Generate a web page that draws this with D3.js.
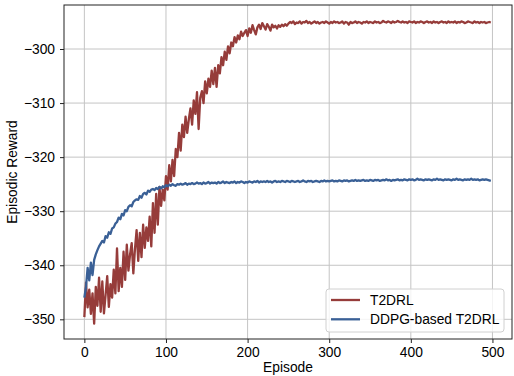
<!DOCTYPE html>
<html>
<head>
<meta charset="utf-8">
<script src="https://cdn.jsdelivr.net/npm/d3@7"></script>
<style>
	html, body { margin: 0; padding: 0; background: #fff; }
	svg { display: block; font-family: "Liberation Sans", Arial, sans-serif; }
</style>
</head>
<body>
<svg id="chart"></svg>
<script>
// episodes sampled every 2
var episodes = d3.range(0, 500, 2);

var seriesNames = ["T2DRL", "DDPG-based T2DRL"];

var t2drl = [
	-349.6,-343.2,-347.8,-344.5,-349.0,-345.2,-350.8,-344.0,-347.5,-342.3,
	-348.6,-343.0,-348.9,-345.5,-342.0,-347.7,-343.5,-346.0,-340.8,-345.2,
	-336.9,-344.8,-340.5,-344.0,-337.5,-342.7,-336.2,-341.0,-338.0,-335.9,
	-341.5,-337.0,-333.5,-339.2,-334.0,-338.5,-332.5,-336.8,-333.0,-335.5,
	-331.0,-336.5,-328.5,-334.0,-326.8,-332.5,-325.5,-329.0,-326.0,-328.0,
	-323.5,-326.0,-321.5,-324.5,-320.5,-323.5,-318.5,-320.0,-315.5,-318.8,
	-314.0,-316.3,-312.5,-315.5,-313.0,-311.0,-314.0,-309.5,-312.0,-308.0,
	-314.8,-309.0,-307.8,-310.0,-306.0,-308.2,-305.5,-307.0,-304.0,-306.5,
	-303.5,-307.0,-303.0,-304.5,-301.5,-303.0,-300.5,-302.0,-299.5,-300.8,
	-298.8,-299.5,-297.8,-298.8,-297.5,-298.2,-296.8,-297.6,-297.0,-296.5,
	-297.6,-296.2,-297.0,-295.6,-296.5,-297.3,-296.0,-295.5,-296.3,-295.2,
	-295.8,-296.4,-295.4,-295.9,-296.6,-295.5,-296.0,-295.7,-296.2,-295.6,
	-295.9,-295.5,-295.8,-295.4,-295.7,
	-295.3,-295.0,-295.2,-294.9,-295.4,-295.1,-295.2,-294.9,-295.3,-295.0,
	-295.1,-294.8,-295.2,-295.0,-295.3,-295.1,-294.9,-295.2,-295.0,-295.3,
	-295.1,-295.0,-295.2,-294.9,-295.1,-295.3,-295.0,-295.2,-294.9,-295.1,
	-295.0,-295.2,-295.1,-294.9,-295.3,-295.0,-295.1,-295.5,-295.0,-295.2,
	-295.1,-294.9,-295.2,-295.0,-295.1,-295.3,-295.0,-295.1,-294.9,-295.2,
	-295.0,-295.1,-295.2,-294.9,-295.1,-295.0,-295.2,-295.1,-294.8,-295.0,
	-295.1,-294.9,-295.0,-295.2,-294.9,-295.1,-295.0,-294.8,-295.0,-295.1,
	-294.9,-295.1,-295.0,-295.2,-294.9,-295.0,-295.1,-294.9,-295.2,-295.0,
	-295.1,-294.9,-295.0,-295.2,-295.0,-294.9,-295.1,-295.0,-295.2,-294.9,
	-295.1,-295.0,-295.2,-295.0,-294.9,-295.1,-295.0,-295.2,-294.9,-295.1,
	-295.0,-295.1,-294.9,-295.2,-295.0,-295.1,-294.9,-295.0,-295.2,-295.1,
	-294.9,-295.0,-295.1,-295.2,-294.9,-295.1,-295.0,-295.2,-295.0,-295.1,
	-295.0,-295.2,-295.1,-295.0,-295.1
];

var ddpg = [
	-346.0,-344.0,-340.5,-342.8,-339.5,-341.8,-339.0,-338.0,-337.2,-336.5,
	-336.0,-335.5,-335.8,-334.6,-334.9,-333.9,-334.2,-333.2,-333.0,-332.3,
	-332.0,-331.2,-331.5,-330.5,-330.8,-329.8,-330.0,-329.2,-328.9,-329.1,
	-328.3,-328.0,-327.8,-327.9,-327.2,-327.5,-326.8,-326.6,-326.9,-326.2,
	-326.4,-326.0,-325.9,-326.1,-325.7,-325.9,-325.5,-325.8,-325.4,-325.6,
	-325.2,-325.4,-325.1,-325.3,-325.0,-325.2,-325.3,-325.0,-325.1,-324.9,
	-325.1,-325.0,-324.8,-325.1,-324.9,-325.0,-324.8,-325.0,-324.9,-324.7,
	-324.9,-324.8,-325.0,-324.7,-324.9,-324.8,-324.6,-324.9,-324.7,-324.8,
	-324.7,-324.9,-324.6,-324.8,-324.7,-324.5,-324.8,-324.6,-324.7,-324.8,
	-324.6,-324.7,-324.5,-324.8,-324.6,-324.7,-324.5,-324.6,-324.8,-324.6,
	-324.7,-324.5,-324.6,-324.7,-324.5,-324.6,-324.4,-324.7,-324.5,-324.6,
	-324.5,-324.6,-324.4,-324.6,-324.5,-324.7,-324.5,-324.4,-324.6,-324.5,
	-324.6,-324.4,-324.5,-324.6,-324.4,-324.5,-324.6,-324.4,-324.5,-324.6,
	-324.5,-324.4,-324.6,-324.5,-324.3,-324.5,-324.6,-324.4,-324.5,-324.4,
	-324.6,-324.5,-324.4,-324.5,-324.6,-324.4,-324.5,-324.3,-324.5,-324.4,
	-324.5,-324.4,-324.3,-324.5,-324.4,-324.5,-324.3,-324.4,-324.5,-324.3,
	-324.4,-324.3,-324.5,-324.4,-324.3,-324.4,-324.2,-324.4,-324.3,-324.4,
	-324.3,-324.2,-324.4,-324.3,-324.4,-324.2,-324.3,-324.4,-324.2,-324.3,
	-324.2,-324.4,-324.3,-324.2,-324.3,-324.1,-324.3,-324.2,-324.4,-324.2,
	-324.3,-324.2,-324.1,-324.3,-324.2,-324.3,-324.1,-324.2,-324.3,-324.1,
	-324.2,-324.1,-324.3,-324.2,-324.0,-324.2,-324.1,-324.2,-324.3,-324.1,
	-324.2,-324.1,-324.2,-324.3,-324.1,-324.2,-324.0,-324.2,-324.1,-324.2,
	-324.3,-324.1,-324.2,-324.1,-324.2,-324.3,-324.1,-324.2,-324.0,-324.2,
	-324.1,-324.2,-324.3,-324.1,-324.2,-324.1,-324.2,-324.0,-324.2,-324.1,
	-324.2,-324.1,-324.3,-324.2,-324.1,-324.2,-324.1,-324.2,-324.3,-324.4
];

var xTicks = [0, 100, 200, 300, 400, 500];
var yTicks = [-350, -340, -330, -320, -310, -300];

var width = 514, height = 376;
var margin = {left: 64, right: 2, top: 5, bottom: 37};
var colors = ["#963c3a", "#3a6096"];
var gridColor = "#c4c4c4";
var fontSize = 13.8;

var svg = d3.select("#chart")
	.attr("width", width)
	.attr("height", height);

var xScale = d3.scaleLinear()
	.domain([-24.95, 523.95])
	.range([margin.left, width - margin.right]);

var yScale = d3.scaleLinear()
	.domain([-353.64, -291.86])
	.range([height - margin.bottom, margin.top]);

var fmt = function(d) { return String(d).replace("-", "\u2212"); };

// grid
var grid = svg.append("g").attr("class", "grid");
grid.selectAll("line.gx")
	.data(xTicks)
	.enter()
	.append("line")
	.attr("x1", function(d) { return xScale(d); })
	.attr("x2", function(d) { return xScale(d); })
	.attr("y1", margin.top)
	.attr("y2", height - margin.bottom)
	.attr("stroke", gridColor)
	.attr("stroke-width", 1);
grid.selectAll("line.gy")
	.data(yTicks)
	.enter()
	.append("line")
	.attr("x1", margin.left)
	.attr("x2", width - margin.right)
	.attr("y1", function(d) { return yScale(d); })
	.attr("y2", function(d) { return yScale(d); })
	.attr("stroke", gridColor)
	.attr("stroke-width", 1);

// lines
var line = d3.line()
	.x(function(d) { return xScale(d[0]); })
	.y(function(d) { return yScale(d[1]); });

[t2drl, ddpg].forEach(function(values, i) {
	svg.append("path")
		.datum(values.map(function(v, j) { return [episodes[j], v]; }))
		.attr("fill", "none")
		.attr("stroke", colors[i])
		.attr("stroke-width", 2.3)
		.attr("stroke-linejoin", "round")
		.attr("d", line);
});

// axes
var xAxis = d3.axisBottom(xScale)
	.tickValues(xTicks)
	.tickSize(4)
	.tickPadding(4)
	.tickSizeOuter(0);
var yAxis = d3.axisLeft(yScale)
	.tickValues(yTicks)
	.tickFormat(fmt)
	.tickSize(4)
	.tickPadding(5)
	.tickSizeOuter(0);

var gx = svg.append("g")
	.attr("transform", "translate(0," + (height - margin.bottom) + ")")
	.call(xAxis);
var gy = svg.append("g")
	.attr("transform", "translate(" + margin.left + ",0)")
	.call(yAxis);
[gx, gy].forEach(function(g) {
	g.select(".domain").remove();
	g.selectAll("line").attr("stroke", "#222");
	g.selectAll("text")
		.attr("fill", "#000")
		.style("font-size", fontSize + "px")
		.style("font-family", "'Liberation Sans', Arial, sans-serif");
});

// frame
svg.append("rect")
	.attr("x", margin.left)
	.attr("y", margin.top)
	.attr("width", width - margin.left - margin.right)
	.attr("height", height - margin.top - margin.bottom)
	.attr("fill", "none")
	.attr("stroke", "#222")
	.attr("stroke-width", 1);

// axis labels
svg.append("text")
	.attr("x", (margin.left + width - margin.right) / 2)
	.attr("y", 372)
	.attr("text-anchor", "middle")
	.style("font-size", fontSize + "px")
	.text("Episode");

svg.append("text")
	.attr("transform", "translate(17," + (margin.top + height - margin.bottom) / 2 + ") rotate(-90)")
	.attr("text-anchor", "middle")
	.style("font-size", fontSize + "px")
	.text("Episodic Reward");

// legend
var legend = svg.append("g").attr("transform", "translate(326,289)");
legend.append("rect")
	.attr("width", 178)
	.attr("height", 43)
	.attr("rx", 3)
	.attr("fill", "#fff")
	.attr("fill-opacity", 0.8)
	.attr("stroke", "#d0d0d0")
	.attr("stroke-width", 1);
var items = legend.selectAll("g.item")
	.data(seriesNames)
	.enter()
	.append("g")
	.attr("transform", function(d, i) { return "translate(0," + (11 + i * 19.3) + ")"; });
items.append("line")
	.attr("x1", 5)
	.attr("x2", 34)
	.attr("stroke", function(d, i) { return colors[i]; })
	.attr("stroke-width", 2.3);
items.append("text")
	.attr("x", 44)
	.attr("dy", "0.35em")
	.style("font-size", fontSize + "px")
	.text(function(d) { return d; });
</script>
</body>
</html>
